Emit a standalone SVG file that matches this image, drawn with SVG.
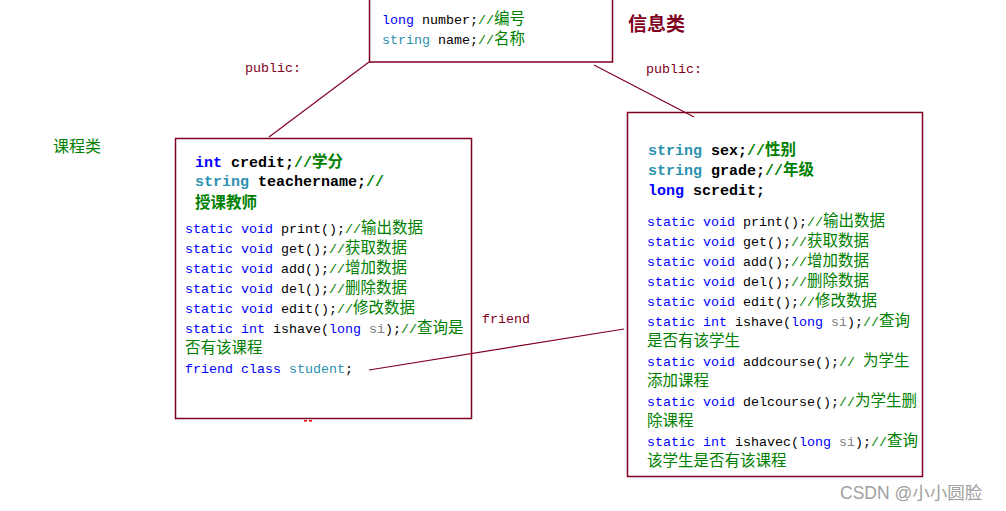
<svg xmlns="http://www.w3.org/2000/svg" width="1006" height="511" viewBox="0 0 1006 511">
<style>
.box{fill:#fff;stroke:#800020;stroke-width:1.5}
.ln{stroke:#800020;stroke-width:1.2;fill:none}
.c{font-family:"Liberation Mono","Noto Sans CJK SC",monospace;font-size:13.33px;fill:#000}
.b{font-family:"Liberation Mono","Noto Sans CJK SC",monospace;font-size:15px;font-weight:bold;fill:#000}
.k{fill:#0000ff}
.t{fill:#2b91af}
.g{fill:#008000}
.s{fill:#808080}
.z{font-family:"Noto Sans CJK SC",sans-serif;font-size:15.5px}
.r{font-family:"Liberation Mono",monospace;font-size:13.33px;fill:#800020}
</style>
<rect width="1006" height="511" fill="#fff"/>
<g id="info-class">
<rect class="box" x="369.5" y="-2" width="243" height="64"/>
<text class="c" x="382" y="24"><tspan class="k">long</tspan> number;<tspan class="g">//<tspan class="z">编号</tspan></tspan></text>
<text class="c" x="382" y="44"><tspan class="t">string</tspan> name;<tspan class="g">//<tspan class="z">名称</tspan></tspan></text>
</g>
<text x="628" y="31" font-family="Noto Sans CJK SC,sans-serif" font-size="19" font-weight="bold" fill="#800020">信息类</text>
<text class="r" x="245" y="72">public:</text>
<text class="r" x="646" y="73">public:</text>
<text x="53" y="152" font-family="Noto Sans CJK SC,sans-serif" font-size="16" fill="#008000">课程类</text>
<text class="r" x="482" y="323">friend</text>
<g id="course-class">
<rect class="box" x="175.5" y="138.5" width="296" height="280"/>
<text class="b" x="195" y="167"><tspan class="k">int</tspan> credit;<tspan class="g">//<tspan class="z" font-weight="bold">学分</tspan></tspan></text>
<text class="b" x="195" y="186"><tspan class="t">string</tspan> teachername;<tspan class="g">//</tspan></text>
<text class="b g z" x="195" y="208" font-weight="bold" font-size="15">授课教师</text>
<text class="c" x="185" y="233"><tspan class="k">static void</tspan> print();<tspan class="g">//<tspan class="z">输出数据</tspan></tspan></text>
<text class="c" x="185" y="253"><tspan class="k">static void</tspan> get();<tspan class="g">//<tspan class="z">获取数据</tspan></tspan></text>
<text class="c" x="185" y="273"><tspan class="k">static void</tspan> add();<tspan class="g">//<tspan class="z">增加数据</tspan></tspan></text>
<text class="c" x="185" y="293"><tspan class="k">static void</tspan> del();<tspan class="g">//<tspan class="z">删除数据</tspan></tspan></text>
<text class="c" x="185" y="313"><tspan class="k">static void</tspan> edit();<tspan class="g">//<tspan class="z">修改数据</tspan></tspan></text>
<text class="c" x="185" y="333"><tspan class="k">static int</tspan> ishave(<tspan class="k">long</tspan> <tspan class="s">si</tspan>);<tspan class="g">//<tspan class="z">查询是</tspan></tspan></text>
<text class="c g z" x="185" y="353">否有该课程</text>
<text class="c" x="185" y="373"><tspan class="k">friend class</tspan> <tspan class="t">student</tspan>;</text>
<rect x="304" y="420" width="3" height="1.5" fill="#ff0000"/>
<rect x="309" y="420" width="3" height="1.5" fill="#ff0000"/>
</g>
<g id="student-class">
<rect class="box" x="627.5" y="112.5" width="295" height="364"/>
<text class="b" x="648" y="155"><tspan class="t">string</tspan> sex;<tspan class="g">//<tspan class="z" font-weight="bold">性别</tspan></tspan></text>
<text class="b" x="648" y="175"><tspan class="t">string</tspan> grade;<tspan class="g">//<tspan class="z" font-weight="bold">年级</tspan></tspan></text>
<text class="b" x="648" y="195"><tspan class="k">long</tspan> scredit;</text>
<text class="c" x="647" y="226"><tspan class="k">static void</tspan> print();<tspan class="g">//<tspan class="z">输出数据</tspan></tspan></text>
<text class="c" x="647" y="246"><tspan class="k">static void</tspan> get();<tspan class="g">//<tspan class="z">获取数据</tspan></tspan></text>
<text class="c" x="647" y="266"><tspan class="k">static void</tspan> add();<tspan class="g">//<tspan class="z">增加数据</tspan></tspan></text>
<text class="c" x="647" y="286"><tspan class="k">static void</tspan> del();<tspan class="g">//<tspan class="z">删除数据</tspan></tspan></text>
<text class="c" x="647" y="306"><tspan class="k">static void</tspan> edit();<tspan class="g">//<tspan class="z">修改数据</tspan></tspan></text>
<text class="c" x="647" y="326"><tspan class="k">static int</tspan> ishave(<tspan class="k">long</tspan> <tspan class="s">si</tspan>);<tspan class="g">//<tspan class="z">查询</tspan></tspan></text>
<text class="c g z" x="647" y="346">是否有该学生</text>
<text class="c" x="647" y="366"><tspan class="k">static void</tspan> addcourse();<tspan class="g">// <tspan class="z">为学生</tspan></tspan></text>
<text class="c g z" x="647" y="386">添加课程</text>
<text class="c" x="647" y="406"><tspan class="k">static void</tspan> delcourse();<tspan class="g">//<tspan class="z">为学生删</tspan></tspan></text>
<text class="c g z" x="647" y="426">除课程</text>
<text class="c" x="647" y="446"><tspan class="k">static int</tspan> ishavec(<tspan class="k">long</tspan> <tspan class="s">si</tspan>);<tspan class="g">//<tspan class="z">查询</tspan></tspan></text>
<text class="c g z" x="647" y="466">该学生是否有该课程</text>
</g>
<g id="connectors">
<line class="ln" x1="369" y1="62" x2="269" y2="137"/>
<line class="ln" x1="594" y1="65" x2="694" y2="117"/>
<line class="ln" x1="369" y1="370" x2="624" y2="329"/>
</g>
<text x="840" y="499" font-family="Liberation Sans,Noto Sans CJK SC,sans-serif" font-size="17.5" fill="#a0a0a0">CSDN @小小圆脸</text>
</svg>
